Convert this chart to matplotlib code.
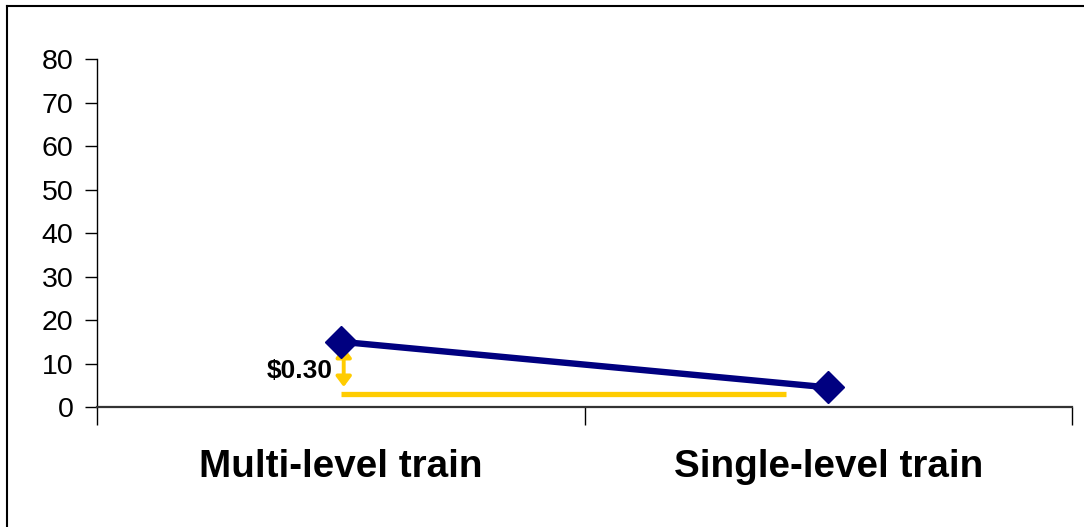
import matplotlib
matplotlib.use("Agg")
import matplotlib.pyplot as plt
from matplotlib.lines import Line2D

plt.rcParams['font.family'] = ['Liberation Sans', 'DejaVu Sans']

# Data
categories = ["Multi-level train", "Single-level train"]
values = [15, 4.5]
y_ticks = [0, 10, 20, 30, 40, 50, 60, 70, 80]
baseline_value = 3.0
baseline_end = 0.914
gap_top = 13.8
gap_bottom = 4.6
gap_label = "$0.30"

navy = "#000080"
gold = "#FFCC00"

fig = plt.figure(figsize=(10.84, 5.27), dpi=100)
ax = fig.add_axes([0.0895, 0.2277, 0.8995, 0.6603])

x = list(range(len(categories)))
ax.plot(x, values, color=navy, lw=4.6, marker="D", markersize=16.5,
        markerfacecolor=navy, markeredgecolor=navy, zorder=3)

# reference line and gap arrow
ax.plot([x[0], baseline_end], [baseline_value, baseline_value], color=gold, lw=3.8,
        solid_capstyle="butt", zorder=2)
ax.annotate("", xy=(x[0] + 0.006, gap_bottom), xytext=(x[0] + 0.006, gap_top),
            arrowprops=dict(arrowstyle="<|-|>,head_length=0.6,head_width=0.45",
                            color=gold, lw=2.8, shrinkA=0, shrinkB=0), zorder=2)
ax.text(x[0] - 0.016, 8.3, gap_label, parse_math=False,
        ha="right", va="center", fontsize=19, fontweight="bold", color="black")

ax.set_xlim(-0.5, len(categories) - 0.5)
ax.set_ylim(0, 80)
ax.set_yticks(y_ticks)
ax.tick_params(axis="y", direction="out", length=9, width=1, pad=8, labelsize=20.5)

ax.set_xticks([-0.5, 0.5, 1.5])
ax.set_xticklabels([])
ax.tick_params(axis="x", which="major", direction="out", length=13, width=1)
ax.set_xticks(x, minor=True)
ax.set_xticklabels(categories, minor=True, fontsize=27.8, fontweight="bold")
ax.tick_params(axis="x", which="minor", length=0, pad=30)

for s in ("top", "right"):
    ax.spines[s].set_visible(False)
ax.spines["left"].set_linewidth(1)
ax.spines["bottom"].set_linewidth(1.6)
ax.spines["bottom"].set_color("#333333")

# outer frame (left and top edges)
fig.add_artist(Line2D([6.5 / 1084, 6.5 / 1084], [0, 1 - 5.5 / 527],
                      transform=fig.transFigure, color="black", lw=1.5))
fig.add_artist(Line2D([6.5 / 1084, 1], [1 - 5.5 / 527, 1 - 5.5 / 527],
                      transform=fig.transFigure, color="black", lw=1.5))

fig.savefig("out.png", dpi=100)
